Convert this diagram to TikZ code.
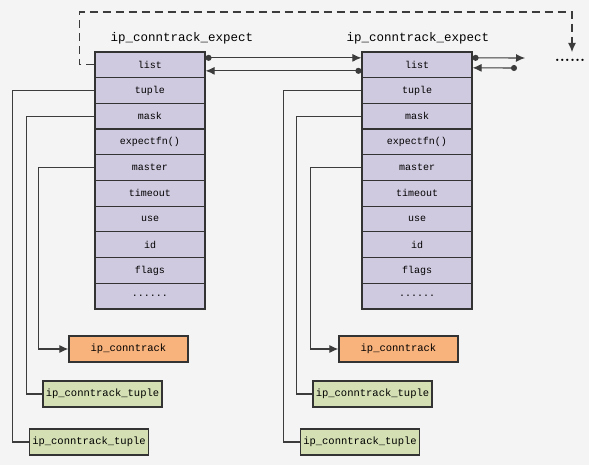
\documentclass[tikz,border=0pt]{standalone}
\usepackage{fontspec}
\setmonofont{Liberation Mono}
\usetikzlibrary{arrows.meta}

\definecolor{bgcol}{RGB}{244,244,244}
\definecolor{fieldcol}{RGB}{208,202,224}
\definecolor{conncol}{RGB}{248,178,124}
\definecolor{tuplecol}{RGB}{212,224,180}
\definecolor{linecol}{RGB}{60,60,60}

\newcommand{\moredots}{......}

\tikzset{
  field/.style={draw=black!80, line width=1.2pt, fill=fieldcol, minimum width=110pt,
    minimum height=25.7pt, inner sep=0pt, font=\ttfamily\fontsize{10}{12}\selectfont},
  connbox/.style={draw=black!80, line width=1.2pt, fill=conncol, minimum width=119pt,
    minimum height=26pt, inner sep=0pt, font=\ttfamily\fontsize{10.5}{12}\selectfont},
  tuplebox/.style={draw=black!80, line width=1.2pt, fill=tuplecol, minimum width=119pt,
    minimum height=26pt, inner sep=0pt, font=\ttfamily\fontsize{10.5}{12}\selectfont},
  title/.style={font=\ttfamily\fontsize{12.5}{14}\selectfont},
  wire/.style={draw=linecol, line width=1.1pt},
  tip/.style={-{Latex[length=9pt,width=8pt]}},
  dottip/.style={{Circle[length=6pt]}-{Latex[length=9pt,width=8pt]}}
}

\begin{document}
\begin{tikzpicture}[x=1pt,y=-1pt]
  \fill[bgcol] (0,0) rectangle (589,465);
  \useasboundingbox (0,0) rectangle (589,465);

  % the two expect structures
  \node[title] (ta) at (182,38) {ip\_conntrack\_expect};
  \node[title] (tb) at (418,38) {ip\_conntrack\_expect};
  \foreach \t [count=\i] in {list,tuple,mask,{expectfn()},master,timeout,use,id,flags,\moredots}{
    \node[field] (a\i) at (150,{64.85+25.7*(\i-1)}) {\t};
    \node[field] (b\i) at (417,{64.85+25.7*(\i-1)}) {\t};
  }

  % pointed-to structures
  \node[connbox] (ca) at (128.5,349) {ip\_conntrack};
  \node[tuplebox] (ma) at (102.5,394) {ip\_conntrack\_tuple};
  \node[tuplebox] (ua) at (89,442) {ip\_conntrack\_tuple};
  \node[connbox] (cb) at (398.5,349) {ip\_conntrack};
  \node[tuplebox] (mb) at (372.5,394) {ip\_conntrack\_tuple};
  \node[tuplebox] (ub) at (360,442) {ip\_conntrack\_tuple};

  \node[font=\bfseries\fontsize{16}{18}\selectfont, inner sep=0pt] (more) at (570,60) {\moredots};
  \coordinate (nxt1) at (525,58);
  \coordinate (nxt2) at (517,68);
  \coordinate (dend) at (572,52);

  % list links
  \draw[wire,dottip] ([yshift=7pt]a1.east) -- ([yshift=7pt]b1.west);
  \draw[wire,dottip] ([yshift=-6pt]b1.west) -- ([yshift=-6pt]a1.east);
  \draw[wire,dottip] ([yshift=7pt]b1.east) -- (nxt1);
  \draw[wire,dottip] (nxt2) -- ([yshift=-3pt]b1.east);
  \draw[wire,dash pattern=on 8pt off 5pt,tip] (a1.west) -- ++(-15,0) |- (dend |- 0,12) -- (dend);

  % member links
  \draw[wire] (a2.west) -- ++(-82,0) |- (ua.west);
  \draw[wire] (a3.west) -- ++(-68,0) |- (ma.west);
  \draw[wire,tip] (a5.west) -- ++(-56,0) |- (ca.west);
  \draw[wire] (b2.west) -- ++(-78,0) |- (ub.west);
  \draw[wire] (b3.west) -- ++(-65,0) |- (mb.west);
  \draw[wire,tip] (b5.west) -- ++(-51,0) |- (cb.west);
\end{tikzpicture}
\end{document}
